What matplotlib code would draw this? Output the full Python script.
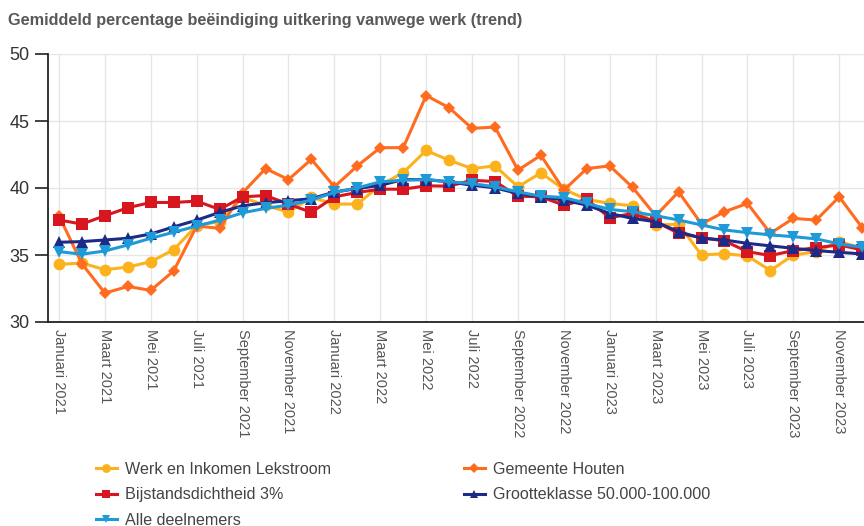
import matplotlib
matplotlib.use("Agg")
import matplotlib.pyplot as plt
import numpy as np

months_nl = ["Januari", "Februari", "Maart", "April", "Mei", "Juni", "Juli",
             "Augustus", "September", "Oktober", "November", "December"]
years = [2021, 2022, 2023]
categories = [f"{m} {y}" for y in years for m in months_nl]

werk_lekstroom = [34.3, 34.4, 33.9, 34.1, 34.5, 35.4, 37.2, 37.5, 39.3, 38.7, 38.2, 39.3,
                  38.8, 38.8, 40.2, 41.15, 42.8, 42.07, 41.45, 41.65, 40.09, 41.13, 39.9, 39.15,
                  38.85, 38.67, 37.24, 37.3, 35.0, 35.1, 34.93, 33.84, 35.0, 35.25, 36.0, 35.5]
gemeente_houten = [37.93, 34.34, 32.16, 32.65, 32.36, 33.82, 37.16, 36.99, 39.64, 41.45, 40.63, 42.14,
                   40.09, 41.65, 43.01, 43.01, 46.9, 45.99, 44.45, 44.55, 41.33, 42.44, 39.84, 41.45,
                   41.65, 40.04, 37.93, 39.71, 37.31, 38.23, 38.85, 36.62, 37.73, 37.61, 39.34, 37.04]
bijstand_3 = [37.61, 37.31, 37.93, 38.53, 38.92, 38.92, 39.02, 38.4, 39.34, 39.44, 38.8, 38.18,
              39.34, 39.67, 39.91, 39.91, 40.16, 40.14, 40.58, 40.48, 39.39, 39.34, 38.72, 39.15,
              37.78, 38.1, 37.48, 36.62, 36.3, 36.05, 35.25, 34.96, 35.33, 35.55, 35.75, 35.38]
grootteklasse = [35.95, 36.0, 36.12, 36.25, 36.57, 37.1, 37.6, 38.18, 38.67, 38.9, 39.05, 39.2,
                 39.7, 39.96, 40.2, 40.63, 40.63, 40.46, 40.21, 40.01, 39.59, 39.34, 39.1, 38.72,
                 38.1, 37.73, 37.48, 36.74, 36.25, 36.12, 35.87, 35.68, 35.5, 35.33, 35.2, 35.08]
alle_deelnemers = [35.25, 35.06, 35.3, 35.75, 36.25, 36.7, 37.16, 37.6, 38.15, 38.48, 38.72, 39.1,
                   39.67, 40.01, 40.46, 40.58, 40.63, 40.46, 40.33, 40.09, 39.71, 39.39, 39.29, 38.85,
                   38.4, 38.23, 37.93, 37.61, 37.24, 36.87, 36.67, 36.5, 36.37, 36.2, 35.83, 35.58]

title = "Gemiddeld percentage beëindiging uitkering vanwege werk (trend)"
y_ticks = [30, 35, 40, 45, 50]

series = [
    ("Werk en Inkomen Lekstroom", werk_lekstroom, "#FBB21D", "o", 8.5),
    ("Gemeente Houten", gemeente_houten, "#FF6B1F", "D", 6.5),
    ("Bijstandsdichtheid 3%", bijstand_3, "#D7161F", "s", 8.0),
    ("Grootteklasse 50.000-100.000", grootteklasse, "#1D2A86", "^", 8.0),
    ("Alle deelnemers", alle_deelnemers, "#1F9AD8", "v", 8.0),
]

plt.rcParams['font.family'] = ['Liberation Sans', 'DejaVu Sans']

fig = plt.figure(figsize=(8.64, 5.26), dpi=100)
ax = fig.add_axes([48/864, 1 - 322/526, 1 - 48/864, (322 - 54)/526])

x = np.arange(len(categories))
handles = {}
for i, (name, vals, col, mk, ms) in enumerate(series):
    h, = ax.plot(x, vals, color=col, lw=2.2, marker=mk, markersize=ms,
                 markeredgewidth=0, zorder=3 + i, clip_on=True, label=name)
    handles[name] = h

ax.set_xlim(-0.48, 35.08)
ax.set_ylim(30, 50)
ax.set_yticks(y_ticks)
ax.set_yticklabels([str(v) for v in y_ticks], fontsize=13, color="#333333")
ax.set_xticks(x[::2])
ax.set_xticklabels(categories[::2], rotation=-90, fontsize=10.5, color="#555555",
                   ha="center", va="top")
ax.tick_params(axis="x", length=0, pad=5)
ax.tick_params(axis="y", length=9.5, width=1.2, color="#222222", pad=4)

ax.grid(True, color="#E6E6E6", lw=1.0, zorder=0)
ax.set_axisbelow(True)
for s in ["top", "right"]:
    ax.spines[s].set_visible(False)
ax.spines["left"].set_color("#222222")
ax.spines["left"].set_linewidth(1.3)
ax.spines["bottom"].set_color("#222222")
ax.spines["bottom"].set_linewidth(1.3)

fig.text(8/864, 1 - 20/526, title, fontsize=11.7, fontweight="bold", color="#595959",
         ha="left", va="center")

leg_kw = dict(frameon=False, fontsize=11.6, handlelength=1.3, handletextpad=0.5,
              labelspacing=0.64, borderpad=0, borderaxespad=0, labelcolor="#444444")
col1 = ["Werk en Inkomen Lekstroom", "Bijstandsdichtheid 3%", "Alle deelnemers"]
col2 = ["Gemeente Houten", "Grootteklasse 50.000-100.000"]
leg1 = fig.legend([handles[n] for n in col1], col1, loc="upper left",
                  bbox_to_anchor=(96/864, 1 - 462/526), markerscale=0.75, **leg_kw)
leg2 = fig.legend([handles[n] for n in col2], col2, loc="upper left",
                  bbox_to_anchor=(464/864, 1 - 462/526), markerscale=0.75, **leg_kw)

fig.savefig("out.png", dpi=100)
